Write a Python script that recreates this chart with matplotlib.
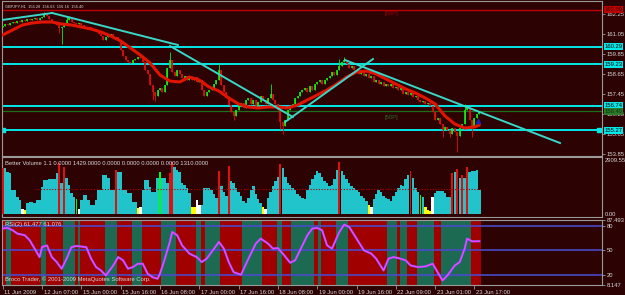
import matplotlib
matplotlib.use("Agg")
import matplotlib.pyplot as plt
import matplotlib.transforms as mtransforms

# ---------------- data ----------------
first_open = 161.47
closes = [
    161.53, 161.65, 161.59, 161.71, 161.77, 161.71, 161.83, 161.77, 161.89, 161.83,
    161.95, 161.89, 161.95, 162.01, 161.89, 162.01, 162.07, 162.25, 162.13, 161.95,
    161.83, 161.77, 161.59, 161.41, 161.47, 161.65, 161.89, 162.01, 161.77, 161.71,
    161.65, 161.71, 161.59, 161.47, 161.41, 161.47, 161.29, 161.35, 161.23, 161.05,
    160.93, 160.69, 160.87, 160.93, 161.05, 160.81, 160.87, 160.69, 160.09, 159.73,
    159.49, 159.37, 159.31, 159.49, 159.55, 159.67, 159.61, 159.37, 158.89, 158.65,
    157.99, 157.57, 157.33, 157.69, 157.81, 157.57, 157.99, 159.01, 159.49, 158.77,
    158.53, 158.89, 158.65, 158.41, 158.53, 158.29, 158.41, 158.29, 158.47, 158.17,
    158.29, 157.69, 157.33, 157.57, 157.69, 157.81, 158.05, 158.29, 158.89, 157.99,
    157.57, 157.21, 156.79, 156.37, 156.13, 156.49, 156.73, 156.91, 156.61, 157.09,
    157.21, 156.85, 157.09, 156.73, 156.97, 157.33, 157.09, 156.85, 157.21, 157.45,
    157.09, 156.85, 156.49, 155.77, 155.53, 155.89, 156.49, 156.73, 156.85, 157.21,
    157.33, 157.57, 157.69, 157.81, 157.57, 157.93, 157.69, 158.05, 158.17, 158.29,
    158.05, 158.29, 158.41, 158.53, 158.77, 158.59, 158.89, 159.13, 159.37, 159.49,
    159.25, 159.01, 159.13, 158.89, 158.77, 158.65, 158.89, 158.53, 158.65, 158.41,
    158.53, 158.17, 158.29, 158.05, 158.17, 157.93, 158.05, 157.93, 158.05, 157.81,
    157.87, 157.69, 157.81, 157.45, 157.57, 157.39, 157.51, 157.27, 157.33, 157.09,
    156.97, 157.03, 156.85, 156.91, 156.73, 156.37, 155.89, 156.01, 155.65, 155.29,
    155.47, 155.29, 155.05, 155.41, 155.17, 154.93, 155.41, 155.65, 156.49, 156.61,
    155.89, 155.53, 156.01, 156.25, 156.40,
]
wick_highs = {17: 162.37, 26: 162.07, 27: 162.13, 68: 159.97, 88: 159.31,
              109: 158.05, 137: 159.55, 139: 159.67, 188: 156.85}
wick_lows = {23: 161.11, 24: 160.45, 61: 157.09, 62: 157.03, 94: 155.89,
             113: 155.35, 114: 155.05, 179: 154.87, 182: 154.87, 185: 153.97,
             191: 154.87}

ma_bars = list(range(0, 193, 4)) + [194]
ma_vals = [160.99, 161.29, 161.59, 161.71, 161.77, 161.77, 161.65, 161.59, 161.47, 161.35,
           161.17, 160.93, 160.63, 160.21, 159.79, 159.31, 158.59, 158.23, 158.17, 158.47,
           158.29, 157.87, 157.63, 157.21, 156.85, 156.67, 156.61, 156.67, 156.67, 156.61,
           156.79, 157.09, 157.39, 157.69, 158.05, 158.47, 158.77, 158.83, 158.65, 158.35,
           158.05, 157.75, 157.51, 157.21, 156.85, 156.13, 155.65, 155.41, 155.47, 155.59]

# trendlines: (bar0, price0, bar1, price1)
trendlines = [(-0.3, 161.89, 20.1, 162.31),
              (20.1, 162.31, 71.3, 160.39),
              (68.1, 160.33, 118.1, 156.07),
              (114.9, 155.77, 150.7, 159.55),
              (139.3, 159.49, 226.8, 154.51)]
cyan_levels = [160.29, 159.23, 156.74, 155.27]
red_level = 162.50
bid_level = 156.40
price_ticks = [162.25, 161.05, 159.85, 158.65, 157.45, 156.25, 155.05, 153.85]

volumes = [
    2483, 2483, 2270, 2216, 1308, 1308, 934, 774, 294, 240,
    614, 668, 668, 614, 774, 774, 1469, 1842, 1842, 1896,
    1896, 1896, 2216, 2750, 1682, 2537, 1949, 1575, 1148, 934,
    828, 294, 774, 1041, 1041, 774, 507, 507, 774, 1308,
    1308, 2109, 2109, 1949, 1308, 1308, 2376, 2270, 2270, 1308,
    1308, 1148, 1148, 668, 668, 347, 400, 1308, 1842, 1842,
    1469, 1201, 1201, 1949, 2270, 1949, 1949, 1682, 2216, 2803,
    2537, 2376, 2270, 1682, 1575, 1415, 1148, 400, 400, 774,
    507, 507, 1415, 1415, 1400, 1300, 1100, 900, 2300, 1500,
    1200, 1000, 2600, 1800, 1700, 1400, 1200, 1000, 700, 600,
    900, 1300, 1500, 1100, 800, 600, 400, 300, 900, 1200,
    1500, 1800, 2000, 2700, 2500, 2000, 1700, 1600, 1400, 1300,
    1100, 1000, 900, 800, 1300, 1600, 1900, 2100, 2300, 2200,
    2000, 1800, 1700, 1500, 1600, 1900, 2400, 2800, 2300, 2100,
    1900, 1700, 1500, 1400, 1300, 1200, 1000, 900, 700, 500,
    400, 800, 1100, 1300, 1200, 1000, 900, 800, 700, 1000,
    1200, 1400, 1600, 1500, 1900, 2100, 2323, 1949, 1415, 1201,
    1041, 934, 400, 240, 187, 934, 1148, 1255, 1255, 1255,
    1148, 934, 934, 2216, 2270, 2430, 1949, 2109, 1949, 2537,
    2270, 2323, 2323, 2376, 1310,
]
volume_colors = ("rcccccccwy" "cccccccccc" "cccrcrcccc" "gwcccccccc" "ccccccrccc"
                 "cccccywccc" "ccccgcccrr" "cccccccyyw" "wcccccccrc" "ccrccccccc"
                 "ccccccywcc" "cccrcccccc" "cccccccccc" "cccccccrcc" "cccccccccy"
                 "wccccccccc" "ccccccrccc" "gcyyywcccc" "cccrcrcrcr" "ccccc")
vol_avg = 1360

rsi_bars = [0, 2, 4, 6, 9, 11, 13, 15, 16, 18, 20, 22, 24, 26, 28, 30, 34, 36, 38, 40,
            42, 45, 47, 49, 51, 53, 55, 57, 59, 61, 63, 64, 66, 68, 69, 71, 73, 76, 79, 81,
            83, 85, 88, 90, 92, 94, 97, 100, 103, 105, 108, 110, 112, 114, 117, 119, 121, 124, 126, 128,
            130, 132, 134, 137, 139, 141, 144, 147, 150, 152, 155, 157, 159, 161, 164, 166, 169, 172, 175, 177,
            179, 181, 183, 184, 186, 188, 189, 191, 194]
rsi_vals = [76.6, 77.3, 74.5, 70.4, 68.4, 62.2, 52.1, 41.8, 54.0, 56.1,
            41.8, 35.7, 27.6, 39.8, 54.0, 55.3, 54.0, 39.8, 29.6, 25.5,
            19.4, 31.6, 41.8, 37.8, 27.6, 29.6, 33.7, 33.7, 21.5, 17.3,
            15.4, 21.5, 39.8, 60.2, 72.4, 68.4, 56.1, 46.0, 41.8, 35.7,
            39.8, 47.9, 60.2, 52.1, 35.7, 23.4, 20.3, 39.8, 58.2, 64.3,
            58.2, 52.1, 52.8, 46.0, 34.9, 37.8, 50.0, 68.4, 76.6, 77.3,
            74.5, 56.1, 52.1, 72.4, 81.5, 78.5, 64.3, 50.0, 46.0, 39.8,
            25.5, 39.8, 41.8, 40.6, 37.8, 31.6, 29.6, 30.4, 33.7, 23.4,
            13.3, 19.4, 27.6, 31.6, 35.7, 52.1, 64.3, 61.0, 61.1]
rsi_levels = [80, 50, 20]
rsi_green_spans = [(2, 3), (16, 17), (25, 29), (31, 31), (42, 46), (53, 56), (65, 70),
                   (79, 80), (83, 88), (98, 105), (112, 113), (118, 126), (129, 129),
                   (136, 140), (157, 160), (162, 164), (169, 175), (179, 190)]

time_ticks = [0, 16, 32, 48, 64, 80, 96, 112, 128, 144, 160, 176, 192]
time_labels = ["11 Jun 2009", "12 Jun 07:00", "15 Jun 00:00", "15 Jun 16:00", "16 Jun 08:00",
               "17 Jun 00:00", "17 Jun 16:00", "18 Jun 08:00", "19 Jun 00:00", "19 Jun 16:00",
               "22 Jun 09:00", "23 Jun 01:00", "23 Jun 17:00"]

# ---------------- style ----------------
W, H = 625, 295
BG = "#2c0202"
FG = "#d8d8d8"
FRAME = "#9a9a9a"
UP = "#10f010"
DOWN = "#e01010"
CYAN = "#00e8e8"
TREND = "#38d8c8"
VOLC = {"c": "#22c4cc", "r": "#e01010", "y": "#ffff00", "w": "#ffffff", "g": "#00ff00"}
XLIM = (-0.285, 243.9)

plt.rcParams["font.family"] = ["Liberation Sans", "DejaVu Sans"]
FS = 4.2


def box(l, t, r, b):
    return [l / W, 1 - b / H, (r - l) / W, (b - t) / H]


def frame(ax):
    ax.set_facecolor(BG)
    for s in ax.spines.values():
        s.set_color(FRAME)
        s.set_linewidth(0.8)
    ax.set_xlim(*XLIM)
    ax.tick_params(axis="x", bottom=False, labelbottom=False)
    ax.yaxis.tick_right()
    ax.tick_params(axis="y", colors=FRAME, labelcolor=FG, length=2, width=0.6,
                   pad=1.5, labelsize=FS)


def right_box(ax, y, text, fc, tc="#000000"):
    tr = mtransforms.blended_transform_factory(ax.transAxes, ax.transData)
    ax.text(1.004, y, text, transform=tr, fontsize=FS, color=tc, va="center", ha="left",
            clip_on=False, zorder=5,
            bbox=dict(boxstyle="square,pad=0.15", fc=fc, ec="none"))


def draw_price(ax):
    frame(ax)
    ax.set_ylim(153.73, 163.03)
    ax.set_yticks(price_ticks)
    ax.set_yticklabels(["%.2f" % p for p in price_ticks])

    ax.axhline(red_level, color="#c00000", lw=1.0, zorder=1)
    ax.axhline(bid_level, color="#1e6e1e", lw=0.9, zorder=1)
    for lvl in cyan_levels:
        ax.axhline(lvl, color=CYAN, lw=1.4, zorder=1)
    ax.plot([0.2, 242.6], [cyan_levels[-1]] * 2, "s", ms=2.6, color=CYAN, zorder=2)

    opens = [first_open] + closes[:-1]
    for i, (o, c) in enumerate(zip(opens, closes)):
        col = UP if c >= o else DOWN
        hi = max(o, c, wick_highs.get(i, c))
        lo = min(o, c, wick_lows.get(i, c))
        ax.vlines(i, lo, hi, color=col, lw=0.6, zorder=3)
        ax.vlines(i, min(o, c) - 0.01, max(o, c) + 0.01, color=col, lw=1.2, zorder=3)

    ax.plot(ma_bars, ma_vals, color="#e01400", lw=2.2, zorder=4, solid_capstyle="round")
    for b0, p0, b1, p1 in trendlines:
        ax.plot([b0, b1], [p0, p1], color=TREND, lw=1.4, zorder=5)

    ax.plot([193.6], [155.83], marker="^", ms=3, color="#2020c0", zorder=6)
    ax.text(155.5, 162.25, "[50P]", color="#a00000", fontsize=FS, va="center", zorder=6)
    ax.text(155.5, 156.01, "[50P]", color="#2a6a2a", fontsize=FS, va="center", zorder=6)

    right_box(ax, red_level, "%.2f" % red_level, "#c00000", "#400000")
    for lvl in cyan_levels:
        right_box(ax, lvl, "%.2f" % lvl, CYAN)
    right_box(ax, bid_level, "%.2f" % bid_level, "#2a7a2a", "#103010")

    ax.text(0.005, 0.975, "GBPJPY,H1  156.28  156.63  156.16  156.40", transform=ax.transAxes,
            fontsize=2.8, color=FG, va="top", ha="left")


def draw_volume(ax):
    frame(ax)
    ax.set_ylim(-110, 3070)
    ax.set_yticks([])
    for i, (v, k) in enumerate(zip(volumes, volume_colors)):
        w = 0.7 if k in "rg" else 1.0
        ax.bar(i, v, width=w, color=VOLC[k], linewidth=0, zorder=3 if k in "rg" else 2)
    ax.plot([13, 194.5], [vol_avg, vol_avg], color="#b00000", lw=0.8, ls=(0, (1, 1.5)), zorder=4)
    tr = mtransforms.blended_transform_factory(ax.transAxes, ax.transData)
    ax.text(1.004, 2909.55, "2909.55", transform=tr, fontsize=FS, color=FG, va="center", clip_on=False)
    ax.text(1.004, 0, "0.00", transform=tr, fontsize=FS, color=FG, va="center", clip_on=False)
    ax.text(0.005, 0.93,
            "Better Volume 1.1 0.0000 1429.0000 0.0000 0.0000 0.0000 0.0000 1310.0000",
            transform=ax.transAxes, fontsize=FS, color=FG, va="top", ha="left", zorder=6)


def draw_rsi(ax):
    frame(ax)
    ax.set_ylim(8.147, 87.493)
    ax.axvspan(-0.5, len(closes) - 0.5, color="#a00000", lw=0, zorder=0)
    for s, e in rsi_green_spans:
        ax.axvspan(s - 0.5, e + 0.5, color="#1d6a52", lw=0, zorder=0.5)
    for lvl in rsi_levels:
        ax.axhline(lvl, color="#4a4ac8", lw=1.2, zorder=1)
    ax.plot(rsi_bars, rsi_vals, color="#6a5aff", lw=1.6, zorder=2)
    ax.plot(rsi_bars, rsi_vals, color="#ff40ff", lw=0.9, zorder=3)

    ax.set_yticks([87.493] + rsi_levels + [8.147])
    ax.set_yticklabels(["87.493", "80", "50", "20", "8.147"])

    ax.set_xticks(time_ticks)
    ax.set_xticklabels(time_labels, ha="left")
    ax.tick_params(axis="x", bottom=True, labelbottom=True, colors=FRAME, labelcolor=FG,
                   length=3, width=0.6, pad=1.0, labelsize=FS)
    for lab in ax.get_xticklabels():
        lab.set_transform(lab.get_transform() + mtransforms.ScaledTranslation(1.5 / 100, 0, ax.figure.dpi_scale_trans))

    ax.text(0.005, 0.97, "RSI(2) 61.477 61.076", transform=ax.transAxes,
            fontsize=FS, color=FG, va="top", ha="left", zorder=6)
    ax.text(0.005, 0.04, "Broco Trader, \u00a9 2001-2009 MetaQuotes Software Corp.",
            transform=ax.transAxes, fontsize=FS, color=FG, va="bottom", ha="left", zorder=6)


def main():
    fig = plt.figure(figsize=(W / 100, H / 100), dpi=100, facecolor=BG)
    ax_p = fig.add_axes(box(2, 1, 602, 156))
    ax_v = fig.add_axes(box(2, 157, 602, 216.5))
    ax_r = fig.add_axes(box(2, 219.6, 602, 284.7))
    draw_price(ax_p)
    draw_volume(ax_v)
    draw_rsi(ax_r)
    fig.savefig("out.png", dpi=100, facecolor=BG)


if __name__ == "__main__":
    main()
